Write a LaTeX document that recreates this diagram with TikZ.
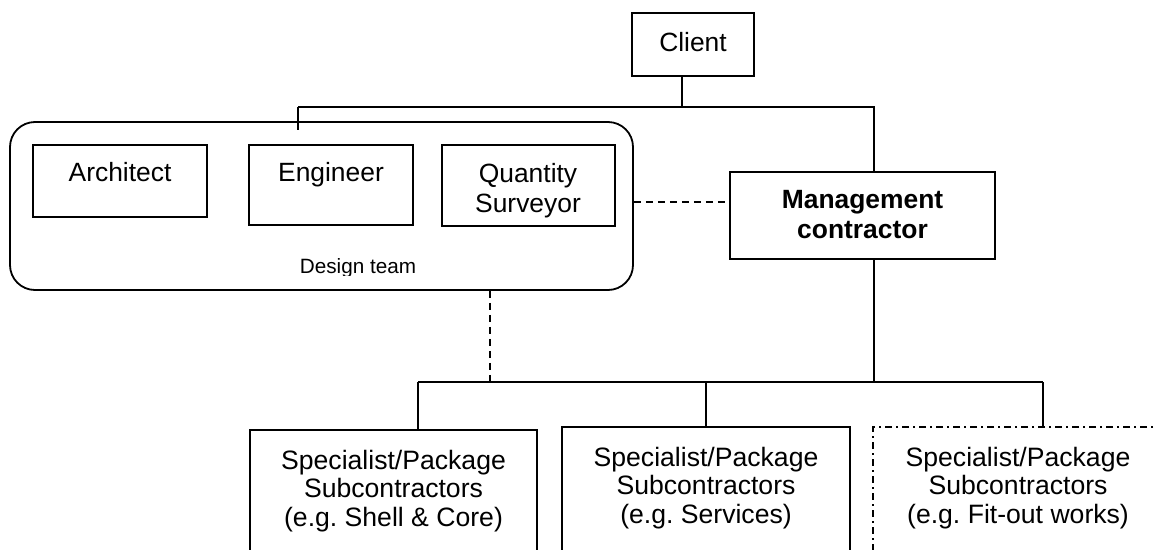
\documentclass[tikz,border=0pt]{standalone}
\usepackage{fontspec}
\setmainfont{Liberation Sans}
\frenchspacing
\begin{document}
\begin{tikzpicture}[x=1pt, y=-1pt, line width=1.8pt,
  box/.style={draw, rectangle, inner sep=0pt},
  txt/.style={font=\fontsize{26.4}{30}\selectfont, align=center, inner sep=0pt},
  subtxt/.style={font=\fontsize{26.6}{28.5}\selectfont, align=center, inner sep=0pt},
  dashlink/.style={dash pattern=on 7pt off 5pt},
  dashdot/.style={dash pattern=on 7pt off 4pt on 2pt off 4pt}
]
\useasboundingbox (0,0) rectangle (1155,549);
\clip (0,0) rectangle (1155,549);

% client
\node[box, minimum width=122, minimum height=63] (client) at (693,44.5) {};
\node[txt] (clienttxt) at (693,42) {Client};

% design team and its members
\node[box, rounded corners=25, minimum width=623, minimum height=168] (design) at (321.5,206) {};
\node[box, minimum width=174, minimum height=72] (arch) at (120,181) {};
\node[txt] (archtxt) at (120,172) {Architect};
\node[box, minimum width=164, minimum height=80] (eng) at (331,185) {};
\node[txt] (engtxt) at (331,174.5) {Engineer};
\node[box, minimum width=173, minimum height=81] (qs) at (528.5,185.5) {};
\node[txt] (qstxt) at (528,190.5) {Quantity\\Surveyor};
\begin{scope}
  \clip (10,240) rectangle (633,275);
  \node[font=\fontsize{20.7}{24}\selectfont, inner sep=0pt, anchor=base] (designtxt) at (358,273) {Design team};
\end{scope}

% management contractor
\node[box, minimum width=265, minimum height=87] (mgmt) at (862.5,215.5) {};
\node[txt, font=\fontsize{26.4}{30}\selectfont\bfseries] (mgmttxt) at (862.5,215) {Management\\contractor};

% subcontractors
\node[box, minimum width=287, minimum height=170] (sub1) at (393.5,515) {};
\node[subtxt] (sub1txt) at (393.5,491) {Specialist/Package\\Subcontractors\\(e.g. Shell \& Core)};
\node[box, minimum width=288, minimum height=170] (sub2) at (706,512) {};
\node[subtxt] (sub2txt) at (706,488) {Specialist/Package\\Subcontractors\\(e.g. Services)};
\node[box, dashdot, minimum width=290, minimum height=170] (sub3) at (1018,512) {};
\node[subtxt] (sub3txt) at (1018,488) {Specialist/Package\\Subcontractors\\(e.g. Fit-out works)};

% junction points
\coordinate (j1) at (682,107);
\coordinate (jL) at (298,107);
\coordinate (jR) at (874,107);
\coordinate (engtick) at (298,130);
\coordinate (dashrow) at (0,202);
\coordinate (b2) at (874,382);
\coordinate (s1) at (418,382);
\coordinate (s2) at (706,382);
\coordinate (s3) at (1043,382);
\coordinate (dv) at (490,382);

% upper connectors
\draw (client.south -| j1) -- (j1);
\draw (jL) -- (jR) -- (mgmt.north -| jR);
\draw (jL) -- (engtick);
\draw[dashlink] (design.east |- dashrow) -- (mgmt.west |- dashrow);

% lower connectors
\draw (mgmt.south -| b2) -- (b2);
\draw (s1) -- (s3);
\draw (s1) -- (sub1.north -| s1);
\draw (s2) -- (sub2.north);
\draw (s3) -- (sub3.north -| s3);
\draw[dashlink] (design.south -| dv) -- (dv);
\end{tikzpicture}
\end{document}
